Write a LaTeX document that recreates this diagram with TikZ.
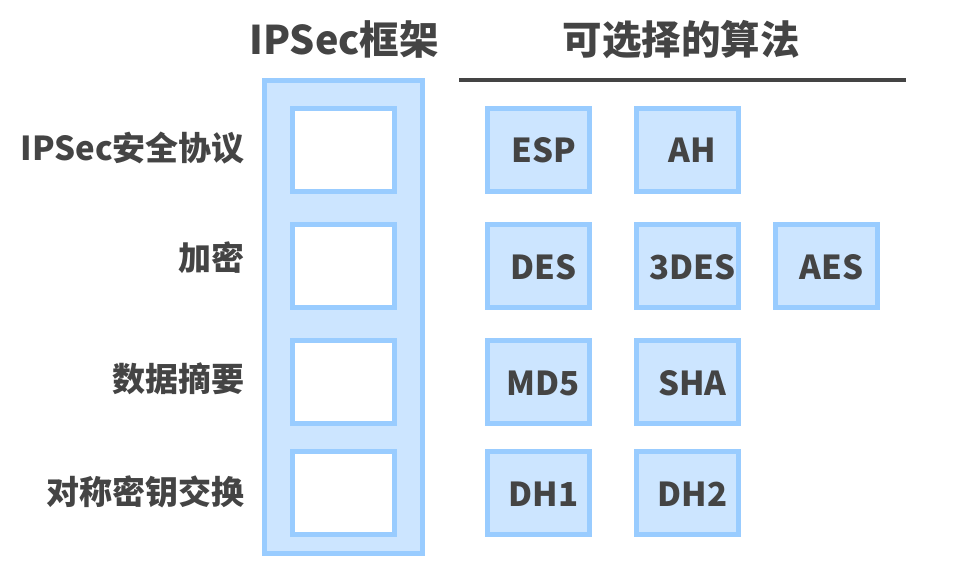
\documentclass[tikz,border=0pt]{standalone}
\usepackage{fontspec}
\setmainfont{Noto Sans CJK SC}
\definecolor{fillblue}{HTML}{CCE5FF}
\definecolor{edgeblue}{HTML}{99CCFF}
\definecolor{txt}{HTML}{444444}
\begin{document}
\begin{tikzpicture}[x=1pt,y=-1pt,
  algbox/.style={draw=edgeblue,fill=fillblue,line width=5pt,minimum width=102pt,minimum height=83pt,inner sep=0pt},
  slotbox/.style={draw=edgeblue,fill=white,line width=5pt,minimum width=102pt,minimum height=83pt,inner sep=0pt},
  boxtxt/.style={anchor=base,inner sep=0pt,text=txt,font=\fontsize{33}{36}\selectfont\bfseries},
  lbl/.style={anchor=base east,inner sep=0pt,text=txt,font=\fontsize{33}{36}\selectfont\bfseries},
  ttl/.style={anchor=base,inner sep=0pt,text=txt,font=\fontsize{39.5}{42}\selectfont\bfseries}]
\useasboundingbox[fill=white] (0,0) rectangle (974,563);
% titles
\node[ttl] (t1) at (344,54) {IPSec框架};
\node[ttl] (t2) at (681,54) {可选择的算法};
\coordinate (l1) at (459,80);
\coordinate (l2) at (906,80);
\draw[txt,line width=4pt] (l1) -- (l2);
% frame
\node[draw=edgeblue,fill=fillblue,line width=5pt,minimum width=158pt,minimum height=473pt,inner sep=0pt] (frame) at (343.5,317) {};
% slots
\node[slotbox] (s1) at (343.5,149.5) {};
\node[slotbox] (s2) at (343.5,266) {};
\node[slotbox] (s3) at (343.5,382) {};
\node[slotbox] (s4) at (343.5,493) {};
% row labels
\node[lbl] (r1) at (245,160) {IPSec安全协议};
\node[lbl] (r2) at (245,270) {加密};
\node[lbl] (r3) at (245,391) {数据摘要};
\node[lbl] (r4) at (245,504) {对称密钥交换};
% algorithm boxes
\node[algbox] (esp) at (538.5,149.5) {};
\node[algbox] (ah) at (687.5,149.5) {};
\node[algbox] (des) at (538.5,266) {};
\node[algbox] (tdes) at (687.5,266) {};
\node[algbox] (aes) at (826.5,266) {};
\node[algbox] (md5) at (538.5,382) {};
\node[algbox] (sha) at (687.5,382) {};
\node[algbox] (dh1) at (538.5,493) {};
\node[algbox] (dh2) at (687.5,493) {};
\node[boxtxt] (espt) at ([xshift=5pt,yshift=-13pt]esp.center) {ESP};
\node[boxtxt] (aht) at ([xshift=5pt,yshift=-13pt]ah.center) {AH};
\node[boxtxt] (dest) at ([xshift=5pt,yshift=-13pt]des.center) {DES};
\node[boxtxt] (tdest) at ([xshift=5pt,yshift=-13pt]tdes.center) {3DES};
\node[boxtxt] (aest) at ([xshift=5pt,yshift=-13pt]aes.center) {AES};
\node[boxtxt] (md5t) at ([xshift=5pt,yshift=-13pt]md5.center) {MD5};
\node[boxtxt] (shat) at ([xshift=5pt,yshift=-13pt]sha.center) {SHA};
\node[boxtxt] (dh1t) at ([xshift=5pt,yshift=-13pt]dh1.center) {DH1};
\node[boxtxt] (dh2t) at ([xshift=5pt,yshift=-13pt]dh2.center) {DH2};
\end{tikzpicture}
\end{document}
